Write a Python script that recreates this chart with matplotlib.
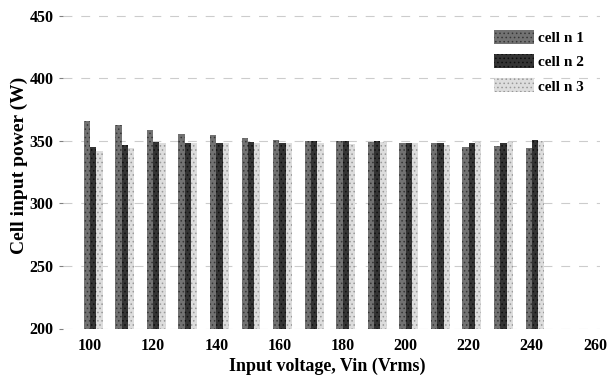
import numpy as np
import matplotlib
matplotlib.use('Agg')
import matplotlib.pyplot as plt

plt.rcParams['font.family'] = ['Liberation Serif', 'DejaVu Serif']
plt.rcParams['font.weight'] = 'bold'
plt.rcParams['hatch.linewidth'] = 0.6

# input voltage (Vrms) and measured input power of each cell (W)
vin = [100, 110, 120, 130, 140, 150, 160, 170, 180, 190, 200, 210, 220, 230, 240]
cell1 = [366, 362.5, 358.5, 355.5, 354.5, 352.5, 351, 350, 350, 349, 348.5, 348, 345, 346, 344.5]
cell2 = [345, 347, 349, 348, 348, 349, 348.5, 350, 350, 350, 348.5, 348, 348, 348, 350.5]
cell3 = [342, 344, 348, 348.5, 348.5, 348, 348, 348, 347.5, 349, 348, 346.5, 349, 349, 350]
labels = ['cell n 1', 'cell n 2', 'cell n 3']
xticks = [100, 120, 140, 160, 180, 200, 220, 240, 260]
yticks = [200, 250, 300, 350, 400, 450]

fig = plt.figure(figsize=(6.08, 3.81), dpi=100)
ax = fig.add_axes([63 / 608, 1 - 328.5 / 381, 537 / 608, 316 / 381])

x = np.array(vin, dtype=float)
w = 2.0
styles = [('#727272', '#363636'), ('#343434', '#0e0e0e'), ('#dddddd', '#999999')]
for i, (vals, lab) in enumerate(zip([cell1, cell2, cell3], labels)):
    face, hatch_col = styles[i]
    ax.bar(x - 1.0 + i * w, np.array(vals) - 200, width=w, bottom=200,
           color=face, edgecolor=hatch_col, hatch='....', linewidth=0,
           label=lab, zorder=3)

# faint dashed grid behind the bars
for yv in yticks:
    ax.axhline(yv, color='0.8', lw=0.8, ls=(0, (8, 8)), zorder=1)

ax.set_xlim(100 - 27 / 3.156, 260 + 5 / 3.156)
ax.set_ylim(200, 452.5)
ax.set_xticks(xticks)
ax.set_yticks(yticks)
ax.tick_params(axis='x', length=0, pad=6.5, labelsize=11.5)
ax.tick_params(axis='y', length=3, width=0.8, color='0.5', pad=4, labelsize=11.5)
for s in ax.spines.values():
    s.set_visible(False)

ax.set_xlabel('Input voltage, Vin (Vrms)', fontsize=13, fontweight='bold')
ax.set_ylabel('Cell input power (W)', fontsize=14, fontweight='bold')
ax.xaxis.set_label_coords((327.5 - 63) / 537, -(358 - 328.5) / 316)
ax.yaxis.set_label_coords(-(63 - 28) / 537, 0.516)

ax.legend(loc='upper left', bbox_to_anchor=(494 / 608, 1 - 30 / 381),
          bbox_transform=fig.transFigure, frameon=False, fontsize=11,
          handlelength=2.6, handleheight=1.0, labelspacing=0.6,
          handletextpad=0.25, borderpad=0, borderaxespad=0)

fig.savefig('out.png', dpi=100)
